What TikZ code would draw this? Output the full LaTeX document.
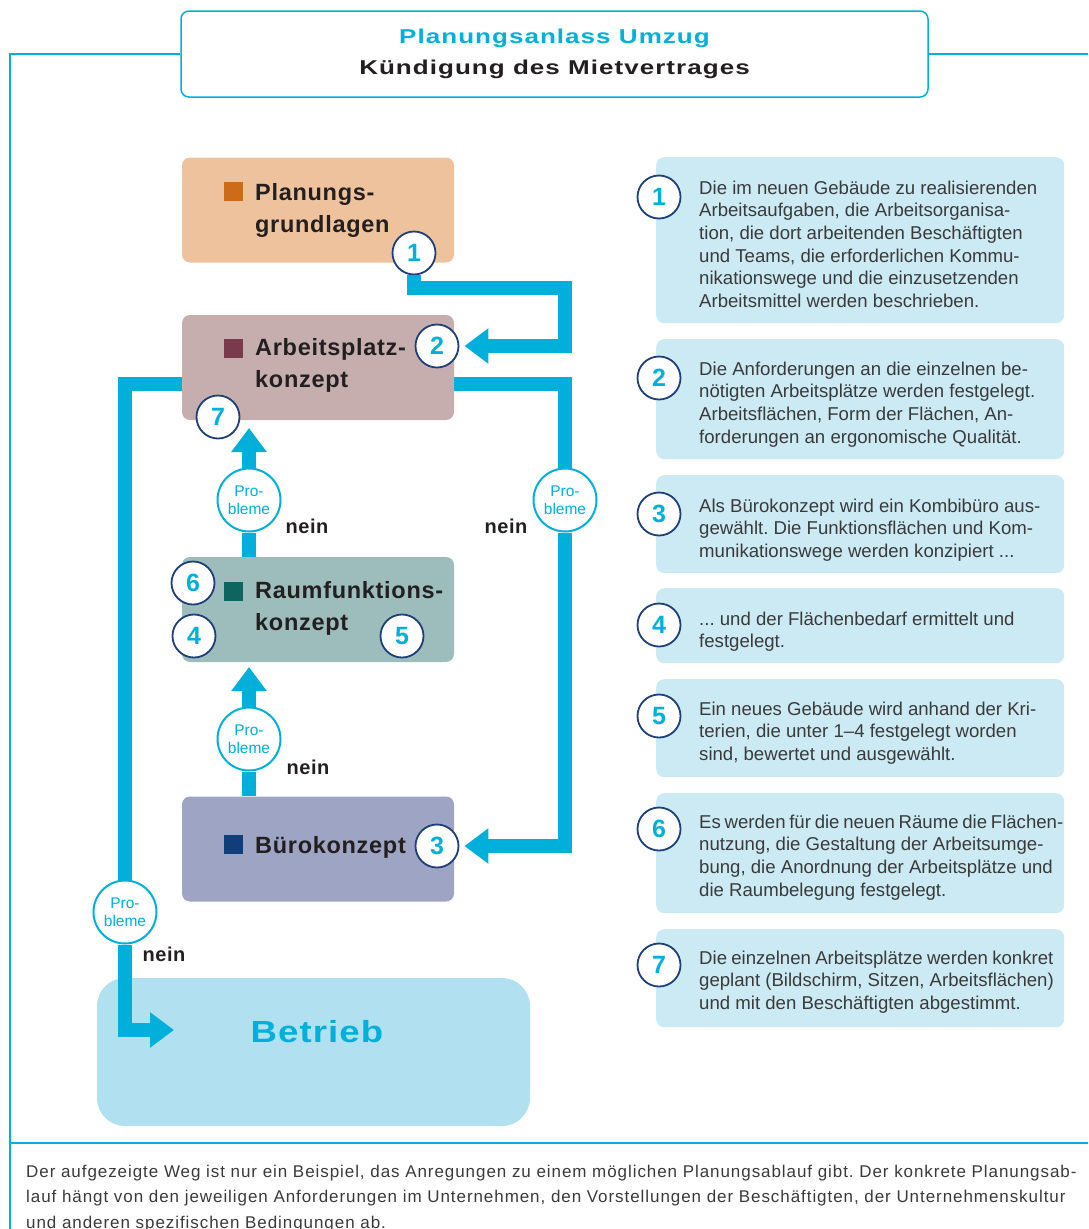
\documentclass[tikz,border=0pt]{standalone}
\usepackage{graphicx}
\usepackage{fontspec}
\setmainfont{Liberation Sans}
\newfontfamily\trackfont[LetterSpace=4]{Liberation Sans}
\newfontfamily\betfont[LetterSpace=3]{Liberation Sans}
\newfontfamily\labfont[LetterSpace=3]{Liberation Sans}
\newfontfamily\notefont[LetterSpace=5.5]{Liberation Sans}
\newcommand{\stretchtx}[2]{\scalebox{#1}[1]{#2}}
\newcommand{\tightsp}[1]{\spaceskip=#1em\relax}
\usetikzlibrary{arrows.meta}
\frenchspacing

\definecolor{flowc}{HTML}{00B0DA}
\definecolor{navyc}{HTML}{1E3F7B}
\definecolor{peachc}{HTML}{EEC29D}
\definecolor{mauvec}{HTML}{C6AEAE}
\definecolor{tealc}{HTML}{9CBDBC}
\definecolor{slatec}{HTML}{9EA4C4}
\definecolor{panelc}{HTML}{CCEAF4}
\definecolor{betc}{HTML}{B1E1F1}
\definecolor{sqorange}{HTML}{CC6B1A}
\definecolor{sqmaroon}{HTML}{7A3A4D}
\definecolor{sqteal}{HTML}{0E6560}
\definecolor{sqnavy}{HTML}{113E79}
\definecolor{inkc}{HTML}{231F20}
\definecolor{bodyc}{HTML}{3A3A3A}

\begin{document}
\frenchspacing
\begin{tikzpicture}[x=1pt, y=-1pt,
  flow/.style={draw=flowc, line width=14pt, -{Triangle[length=24pt,width=34pt]}},
  flowline/.style={draw=flowc, line width=14pt},
  frame/.style={draw=flowc, line width=2pt},
  stage/.style={rounded corners=8pt, minimum width=272pt, minimum height=105pt, inner sep=0pt},
  sqbox/.style={minimum size=19pt, inner sep=0pt},
  stagetext/.style={anchor=north west, align=left, inner sep=0pt, text=inkc, font=\labfont\bfseries\fontsize{23.5}{32}\selectfont},
  num/.style={circle, draw=navyc, line width=1.8pt, fill=white, minimum size=43pt, inner sep=0pt, text=flowc, font=\bfseries\fontsize{25}{25}\selectfont},
  pb/.style={circle, draw=flowc, line width=2pt, fill=white, minimum size=63pt, inner sep=0pt, align=center, text=flowc, font=\fontsize{15.5}{17.7}\selectfont},
  nein/.style={anchor=base, inner sep=0pt, text=inkc, font=\labfont\bfseries\fontsize{20}{20}\selectfont},
  panel/.style={fill=panelc, rounded corners=8pt, minimum width=408pt, anchor=north west, inner sep=0pt},
  paneltext/.style={anchor=north west, align=left, inner sep=0pt, text=bodyc, font=\fontsize{18.6}{22.7}\selectfont}]
  \useasboundingbox (0,0) rectangle (1088,1229);

  % head and frame
  \node[draw=flowc, line width=1.5pt, fill=white, rounded corners=8pt, minimum width=747pt, minimum height=86pt,
        align=center, text=inkc, font=\trackfont\bfseries\fontsize{20}{31.7}\selectfont] (title) at (554.5,54)
        {\stretchtx{1.3}{\textcolor{flowc}{Planungsanlass Umzug}}\\\stretchtx{1.3}{Kündigung des Mietvertrages}};
  \draw[frame] (title.west) -- (10,54) -- (10,1229);
  \draw[frame] (title.east) -- (1088,54);
  \draw[frame] (10,1143) -- (1088,1143);

  % planning stages
  \node[stage, fill=peachc] (plan) at (318,210) {};
  \node[sqbox, fill=sqorange] (plansq) at (233.5,191.5) {};
  \node[stagetext] (plantx) at (255,183.2) {Planungs-\\grundlagen};

  \node[stage, fill=mauvec] (ap) at (318,367.5) {};
  \node[sqbox, fill=sqmaroon] (apsq) at (233.5,348.5) {};
  \node[stagetext] (aptx) at (255,338.2) {Arbeitsplatz-\\konzept};

  \node[stage, fill=tealc] (raum) at (318,609.5) {};
  \node[sqbox, fill=sqteal] (raumsq) at (233.5,591) {};
  \node[stagetext] (raumtx) at (255,581.2) {Raumfunktions-\\konzept};

  \node[stage, fill=slatec] (buero) at (318,849) {};
  \node[sqbox, fill=sqnavy] (buerosq) at (233.5,844.5) {};
  \node[stagetext, anchor=base west] (buerotx) at (255,853) {Bürokonzept};

  \node[fill=betc, rounded corners=28pt, minimum width=433pt, minimum height=148pt] (bet) at (313.5,1052) {};
  \node[anchor=base, inner sep=0pt, text=flowc, font=\betfont\bfseries\fontsize{30.5}{30.5}\selectfont] (bettx) at (317,1042) {\stretchtx{1.2}{Betrieb}};

  % step numbers on the stages
  \node[num] (c1) at (414,253) {1};
  \node[num] (c2) at (437,346) {2};
  \node[num] (c7) at (218,417) {7};
  \node[num] (c6) at (193,583) {6};
  \node[num] (c4) at (194,636) {4};
  \node[num] (c5) at (402,636) {5};
  \node[num] (c3) at (437,846) {3};

  % problem checks
  \node[pb] (pb1) at (249,500) {Pro-\\bleme};
  \node[pb] (pb2) at (565,500) {Pro-\\bleme};
  \node[pb] (pb3) at (249,739) {Pro-\\bleme};
  \node[pb] (pb4) at (125,912) {Pro-\\bleme};
  \node[nein] (n1) at (307,533) {nein};
  \node[nein] (n2) at (506,533) {nein};
  \node[nein] (n3) at (308,774) {nein};
  \node[nein] (n4) at (164,961) {nein};

  % flow
  \coordinate (k1) at (565,288);
  \coordinate (k2) at (565,346);
  \coordinate (t7) at (249,428);
  \coordinate (t4) at (249,667);
  \coordinate (bt) at (174,1030);
  \draw[flow] (c1.south) |- (k1) -- (k2) -- ([xshift=5pt]c2.east);
  \draw[flowline] ([yshift=-16pt]ap.east) -| (pb2.north);
  \draw[flow] (pb2.south) |- ([xshift=5pt]c3.east);
  \draw[flowline] ([yshift=-16pt]ap.west) -| (pb4.north);
  \draw[flow] (pb4.south) |- (bt);
  \draw[flowline] (raum.north -| pb1) -- (pb1.south);
  \draw[flow] (pb1.north) -- (t7);
  \draw[flowline] (buero.north -| pb3) -- (pb3.south);
  \draw[flow] (pb3.north) -- (t4);

  % explanations
  \node[panel, minimum height=166pt] (p1) at (656,157) {};
  \node[panel, minimum height=120pt] (p2) at (656,339) {};
  \node[panel, minimum height=98pt] (p3) at (656,475) {};
  \node[panel, minimum height=75pt] (p4) at (656,588) {};
  \node[panel, minimum height=98pt] (p5) at (656,679) {};
  \node[panel, minimum height=120pt] (p6) at (656,793) {};
  \node[panel, minimum height=98pt] (p7) at (656,929) {};
  \node[num] (e1) at (659,197) {1};
  \node[num] (e2) at (659,378) {2};
  \node[num] (e3) at (659,514) {3};
  \node[num] (e4) at (659,625) {4};
  \node[num] (e5) at (659,716) {5};
  \node[num] (e6) at (659,829) {6};
  \node[num] (e7) at (659,965) {7};
  \node[paneltext] (p1tx) at (699,180.5) {Die im neuen Gebäude zu realisierenden\\Arbeitsaufgaben, die Arbeitsorganisa-\\tion, die dort arbeitenden Beschäftigten\\und Teams, die erforderlichen Kommu-\\nikationswege und die einzusetzenden\\Arbeitsmittel werden beschrieben.};
  \node[paneltext] (p2tx) at (699,361.5) {Die Anforderungen an die einzelnen be-\\nötigten Arbeitsplätze werden festgelegt.\\Arbeitsflächen, Form der Flächen, An-\\forderungen an ergonomische Qualität.};
  \node[paneltext] (p3tx) at (699,498.5) {Als Bürokonzept wird ein Kombibüro aus-\\gewählt. Die Funktionsflächen und Kom-\\munikationswege werden konzipiert ...};
  \node[paneltext] (p4tx) at (699,611.5) {... und der Flächenbedarf ermittelt und\\festgelegt.};
  \node[paneltext] (p5tx) at (699,701.5) {Ein neues Gebäude wird anhand der Kri-\\terien, die unter 1–4 festgelegt worden\\sind, bewertet und ausgewählt.};
  \node[paneltext] (p6tx) at (699,814.5) {\tightsp{0.2}Es werden für die neuen Räume die Flächen-\\nutzung, die Gestaltung der Arbeitsumge-\\bung, die Anordnung der Arbeitsplätze und\\die Raumbelegung festgelegt.};
  \node[paneltext] (p7tx) at (699,950.5) {\tightsp{0.23}Die einzelnen Arbeitsplätze werden konkret\\geplant (Bildschirm, Sitzen, Arbeitsflächen)\\und mit den Beschäftigten abgestimmt.};

  % note
  \node[anchor=north west, align=left, inner sep=0pt, text=bodyc, font=\notefont\fontsize{17}{25.5}\selectfont] (note) at (26,1164.8)
    {Der aufgezeigte Weg ist nur ein Beispiel, das Anregungen zu einem möglichen Planungsablauf gibt. Der konkrete Planungsab-\\lauf hängt von den jeweiligen Anforderungen im Unternehmen, den Vorstellungen der Beschäftigten, der Unternehmenskultur\\und anderen spezifischen Bedingungen ab.};
\end{tikzpicture}
\end{document}
